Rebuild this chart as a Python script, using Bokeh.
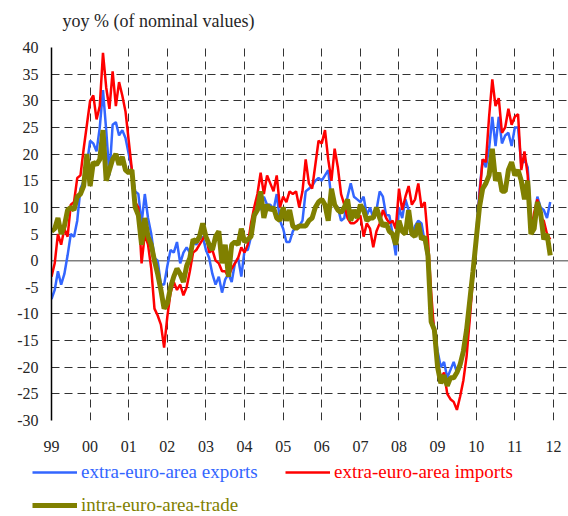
from bokeh.plotting import figure
from bokeh.models import (Range1d, FixedTicker, Span, Legend, LegendItem, Label,
                          ColumnDataSource)
from bokeh.embed import file_html
from bokeh.resources import INLINE

# ---------------- data (monthly, Jan 1999 - Dec 2011) ----------------
start_year = 1999
exports_extra = [
    -7.2, -5.5, -2, -4.5, -2.5, 1, 5, 4.5, 7.5, 13.5, 15, 18,          # 1999
    22.5, 22, 20.5, 25, 32, 24.5, 16, 25.5, 26, 23.5, 24.5, 23,        # 2000
    20, 17, 13, 12.5, 7, 12.5, 8, 5, 0.5, 0, -4.5, -4.5,               # 2001
    -1, 2, 1.5, 3.5, -0.5, 1.5, 2.5, 1.5, 3.5, 3, 4, 4.5,              # 2002
    2, 0.5, -2.5, -4.5, -3, -6, -3.5, -2.5, -4, -0.5, 0.5, -3,         # 2003
    2, 2, 4.5, 7.5, 11, 9.5, 12, 10.5, 10.5, 9.5, 12.5, 7.5,           # 2004
    6, 3.5, 3.5, 5.5, 6.5, 6.5, 7.5, 13, 13.5, 14, 15, 15.5,           # 2005
    15, 16, 17, 11.5, 10.5, 10, 7.5, 8, 12, 14.5, 12, 11.5,            # 2006
    11, 12, 8.5, 10, 8, 9.5, 13, 12, 8.5, 8.5, 5, 1,                   # 2007
    10, 8, 11.5, 9.5, 5, 6.5, 7.5, 7, 3.5, 0, -9, -13,                 # 2008
    -17, -20, -19, -22, -20.5, -19, -21, -19.5, -17.5, -16, -10, -3,   # 2009
    5, 13, 19, 17.5, 21, 27, 21.5, 27, 22, 23.5, 24, 21.5,             # 2010
    25, 25, 18, 19, 17.5, 8, 8, 12, 10, 9.5, 8, 11,                    # 2011
]
imports_extra = [
    -3, -0.5, 5, 3, 6, 4.5, 10.5, 11, 15.5, 16, 21, 25.5,
    30, 31, 26.5, 29, 39, 32.5, 28.5, 35.5, 29, 33.5, 31, 28,
    22.5, 17, 11, 10, -0.5, 5, 3, -1.5, -9, -10.3, -12, -16.3,
    -10.5, -6, -4, -5.5, -4.5, -6.5, -5, -2, 1.5, 2, 3, 4,
    5, 1.5, 2, 0, -0.5, -2, -2, -3, -1.5, -0.5, 0.5, 2.5,
    1.5, 3, 7, 10, 12.5, 16.5, 12.5, 16, 14.5, 13, 16, 10,
    12, 11, 13, 12.5, 13, 10, 13, 19, 14.5, 13.5, 18, 22.5,
    22, 24.5, 19, 15, 21, 17.5, 12.5, 10.5, 8, 7, 7, 7.5,
    8.5, 4.5, 7, 6, 2.5, 5.5, 7, 9.5, 8, 7, 7.5, 6,
    13.5, 9.5, 12, 14, 10.5, 11.5, 14.5, 10, 11, 4, -6, -14,
    -19, -22, -21, -25, -26, -26.5, -28, -25.5, -22.5, -18, -11, -3,
    4, 12, 19, 18.5, 27, 34, 29, 30.5, 24, 25, 28.5, 25.5,
    27, 27.5, 17, 20.5, 16, 5, 9, 11.5, 8, 7.5, 5, 4,
]
intra_trade = [
    5.5, 6, 8, 5, 6.5, 9.5, 10, 9.5, 12, 12.5, 14, 20,
    14, 18.5, 18, 19, 24.5, 15, 17, 19, 20, 18, 19.5, 17,
    16.5, 17, 10, 8.5, 3, 8, 4.5, 3, 0, -2.5, -5.5, -9,
    -8, -5, -3, -1.5, -2.5, -4, -1, 0.5, 4, 3.5, 4.5, 7,
    4.5, 3, 2, 4.5, 5.5, -0.5, 3, -3, 3, 3.5, 3, 6,
    3.5, 4, 4.5, 8.5, 9.5, 13, 8, 10.5, 9.5, 10, 8, 7.5,
    10, 7.5, 9.5, 6.5, 6, 6.5, 6.5, 6.5, 7.5, 8, 10, 11,
    11.5, 10.5, 7.5, 13.5, 10.5, 9.5, 9, 10, 11.5, 7.5, 9.5, 8,
    10.5, 9.5, 7.5, 8, 8, 10, 8, 6.5, 7, 5.5, 5, 3,
    7.5, 5.5, 5, 9.5, 5, 4.5, 7, 4, 4.5, 1, -11.5, -13,
    -20, -23, -21.5, -23.5, -22, -22, -21, -19.5, -17, -13, -7.5, -2,
    4, 10, 13.5, 14.5, 16, 21, 15, 16.5, 13, 13, 17, 18.5,
    16, 17, 15, 11.5, 15, 5, 6, 11, 9, 4, 5, 1,
]
series_names = ["extra-euro-area exports", "extra-euro-area imports", "intra-euro-area-trade"]
series_colors = ["#3366FF", "#FF0000", "#808000"]
series_widths = [2.5, 2.5, 5]
x_tick_years = list(range(1999, 2013))
x_tick_labels = ["99", "00", "01", "02", "03", "04", "05", "06", "07", "08", "09", "10", "11", "12"]
y_ticks = list(range(-30, 41, 5))
y_tick_labels = [str(v) for v in y_ticks]
title_text = "yoy % (of nominal values)"

FONT = "Liberation Serif"
TXT = "#262626"

# ---------------- title strip (separate root) ----------------
title_fig = figure(width=568, height=35, output_backend="svg", toolbar_location=None,
                   x_range=Range1d(0, 1), y_range=Range1d(0, 1),
                   x_axis_type=None, y_axis_type=None,
                   min_border_left=0, min_border_right=0, min_border_top=0, min_border_bottom=0)
title_fig.outline_line_color = None
title_fig.grid.visible = False
title_fig.add_layout(Label(x=62, y=15, x_units="screen", y_units="screen", text=title_text,
                           text_font=FONT, text_font_size="18px", text_color=TXT,
                           text_baseline="middle", text_align="left"))

# ---------------- main chart ----------------
months = [start_year + i / 12 for i in range(len(intra_trade))]
src = ColumnDataSource(dict(x=months, exp=exports_extra, imp=imports_extra, intra=intra_trade))

p = figure(width=568, height=420, output_backend="svg", toolbar_location=None,
           x_range=Range1d(1999, 2012.39), y_range=Range1d(-30, 40),
           min_border_left=51, min_border_right=0, min_border_top=12, min_border_bottom=35)
p.outline_line_color = None
p.background_fill_color = "white"
p.border_fill_color = "white"

# axes
p.yaxis.ticker = FixedTicker(ticks=y_ticks)
p.yaxis.major_label_overrides = {v: s for v, s in zip(y_ticks, y_tick_labels)}
p.yaxis.axis_line_color = "black"
p.yaxis.axis_line_width = 1.5
p.yaxis.major_tick_out = 0
p.yaxis.major_tick_in = 0
p.yaxis.minor_tick_out = 0
p.yaxis.minor_tick_in = 0
p.yaxis.major_label_standoff = 13
p.yaxis.major_label_text_font = FONT
p.yaxis.major_label_text_font_size = "16px"
p.yaxis.major_label_text_color = TXT

p.xaxis.ticker = FixedTicker(ticks=x_tick_years)
p.xaxis.major_label_overrides = {v: s for v, s in zip(x_tick_years, x_tick_labels)}
p.xaxis.axis_line_color = None
p.xaxis.major_tick_out = 0
p.xaxis.major_tick_in = 0
p.xaxis.minor_tick_out = 0
p.xaxis.minor_tick_in = 0
p.xaxis.major_label_standoff = 20
p.xaxis.major_label_text_font = FONT
p.xaxis.major_label_text_font_size = "16px"
p.xaxis.major_label_text_color = TXT

for g in (p.xgrid, p.ygrid):
    g.grid_line_color = "#333333"
    g.grid_line_dash = "8 5"
    g.grid_line_width = 1

p.add_layout(Span(location=0, dimension="width", line_color="#7f7f7f",
                  line_width=1.5, level="underlay"))

p.line("x", "exp", source=src, line_color=series_colors[0], line_width=series_widths[0])
p.line("x", "imp", source=src, line_color=series_colors[1], line_width=series_widths[1])
p.line("x", "intra", source=src, line_color=series_colors[2], line_width=series_widths[2])

# ---------------- legend strip below (separate root, frame covers it all) ----------------
lg_fig = figure(width=568, height=61, output_backend="svg", toolbar_location=None,
                x_range=Range1d(0, 1), y_range=Range1d(0, 1),
                x_axis_type=None, y_axis_type=None,
                min_border_left=0, min_border_right=0, min_border_top=0, min_border_bottom=0)
lg_fig.outline_line_color = None
lg_fig.grid.visible = False

legend_locs = [(32, 33), (285, 33), (32, 0)]
for name, col, w, loc in zip(series_names, series_colors, series_widths, legend_locs):
    # swatch-only renderer placed outside the visible range (legend key only)
    r = lg_fig.line(x=[-3, -2], y=[-3, -3], line_color=col, line_width=w)
    lg = Legend(items=[LegendItem(label=name, renderers=[r])], location=loc,
                orientation="horizontal", padding=0, margin=0, spacing=0,
                glyph_width=45, glyph_height=20, label_height=20, label_standoff=4,
                label_text_font=FONT, label_text_font_size="19px",
                label_text_color=col, border_line_color=None,
                background_fill_alpha=0)
    lg_fig.add_layout(lg, "center")

open("out.html", "w").write(file_html([title_fig, p, lg_fig], INLINE))
